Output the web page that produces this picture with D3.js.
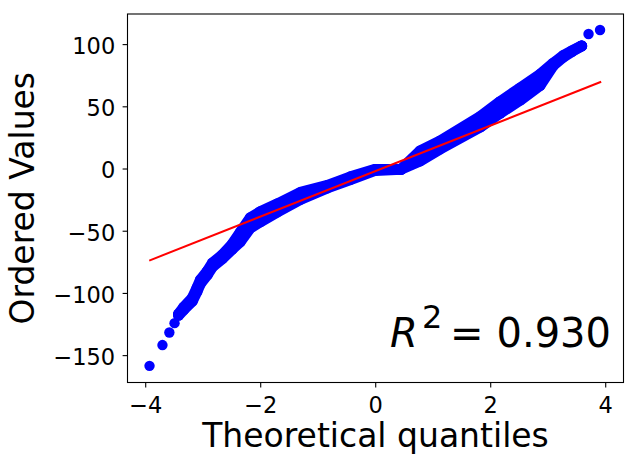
<!DOCTYPE html>
<html>
<head>
<meta charset="utf-8">
<script src="https://cdn.jsdelivr.net/npm/d3@7"></script>
<style>
  body { margin: 0; background: #fff; }
  text { font-family: "DejaVu Sans", sans-serif; }
</style>
</head>
<body>
<svg id="chart"></svg>
<script>
// isolated points at both ends of the Q-Q curve
const tailQ = [-3.925, -3.70, -3.58, -3.49, 3.71, 3.91];
const tailV = [-158.6, -141.9, -131.8, -124.3, 108.1, 111.3];

// dense part of the curve: upper and lower run of ordered values
const bandQ  = [-3.42, -3.33, -3.18, -3.10, -3.04, -2.92, -2.83, -2.66, -2.49, -2.35, -2.17, -2.00, -1.70, -1.30, -0.83, -0.43, 0.00, 0.45, 0.78, 1.13, 1.83, 2.17, 2.52, 2.87, 3.10, 3.27, 3.42, 3.59];
const upperV = [-117.0, -111.5, -104.0, -96.0, -89.5, -82.5, -76.0, -69.5, -61.0, -51.5, -39.5, -34.8, -28.4, -19.2, -13.6, -6.7, -0.7, -0.6, 14.1, 22.2, 41.9, 53.7, 64.7, 75.8, 84.8, 90.8, 94.5, 98.5];
const lowerV = [-118.0, -113.5, -106.5, -99.0, -92.5, -85.5, -79.0, -72.5, -65.0, -59.0, -47.7, -42.9, -34.9, -24.8, -15.6, -8.8, -1.5, -0.6, 6.1, 15.7, 33.4, 44.4, 54.9, 66.9, 83.0, 89.6, 94.0, 98.5];

// least squares line ends
const fitQ = [-3.93, 3.93];
const fitV = [-74.0, 69.7];

const xTicks = [-4, -2, 0, 2, 4];
const yTicks = [-150, -100, -50, 0, 50, 100];
const rSquared = "0.930";

class QQPlot {
    constructor() {
        this.w = 636;
        this.h = 465;
        this.box = {left: 127.5, right: 623.5, top: 14, bottom: 382.5};
        this.x = d3.scaleLinear().domain([-4.308, 4.318]).range([this.box.left, this.box.right]);
        this.y = d3.scaleLinear().domain([-172, 124.2]).range([this.box.bottom, this.box.top]);
        this.buildChart();
    }

    buildChart() {
        const svg = d3.select("#chart")
            .attr("width", this.w)
            .attr("height", this.h);
        const x = this.x, y = this.y, box = this.box;
        const blue = "#0000ff";

        const line = d3.line()
            .x(d => x(d[0]))
            .y(d => y(d[1]));

        const band = svg.append("g");
        band.append("path")
            .attr("d", d3.area()
                .x((d, i) => x(d))
                .y0((d, i) => y(lowerV[i]))
                .y1((d, i) => y(upperV[i]))(bandQ))
            .attr("fill", blue);

        [upperV, lowerV].forEach(vals => {
            const pts = bandQ.map((q, i) => [q, vals[i]]);
            band.append("path")
                .attr("d", line(pts))
                .attr("fill", "none")
                .attr("stroke", blue)
                .attr("stroke-width", 11)
                .attr("stroke-linecap", "round")
                .attr("stroke-linejoin", "round");
            band.selectAll(null)
                .data(pts)
                .enter()
                .append("circle")
                .attr("cx", d => x(d[0]))
                .attr("cy", d => y(d[1]))
                .attr("r", 5.5)
                .attr("fill", blue);
        });

        svg.append("g").selectAll("circle")
            .data(tailQ.map((q, i) => [q, tailV[i]]))
            .enter()
            .append("circle")
            .attr("cx", d => x(d[0]))
            .attr("cy", d => y(d[1]))
            .attr("r", 5.2)
            .attr("fill", blue);

        svg.append("path")
            .attr("d", line(fitQ.map((q, i) => [q, fitV[i]])))
            .attr("fill", "none")
            .attr("stroke", "#ff0000")
            .attr("stroke-width", 2);

        // frame
        svg.append("rect")
            .attr("x", box.left)
            .attr("y", box.top)
            .attr("width", box.right - box.left)
            .attr("height", box.bottom - box.top)
            .attr("fill", "none")
            .attr("stroke", "#000")
            .attr("stroke-width", 1.1);

        const xAxis = svg.append("g")
            .attr("transform", `translate(0,${box.bottom})`)
            .call(d3.axisBottom(x).tickValues(xTicks).tickSize(4.9).tickSizeOuter(0).tickFormat(d3.format("d")));
        xAxis.select(".domain").remove();
        xAxis.selectAll("line").attr("stroke-width", 1.1);
        xAxis.selectAll("text")
            .attr("y", 30)
            .attr("dy", 0)
            .attr("font-size", 22.5)
            .attr("font-family", "DejaVu Sans")
            .attr("fill", "#000");

        const yAxis = svg.append("g")
            .attr("transform", `translate(${box.left},0)`)
            .call(d3.axisLeft(y).tickValues(yTicks).tickSize(4.9).tickPadding(7.4).tickSizeOuter(0).tickFormat(d3.format("d")));
        yAxis.select(".domain").remove();
        yAxis.selectAll("line").attr("stroke-width", 1.1);
        yAxis.selectAll("text")
            .attr("dy", "0.42em")
            .attr("font-size", 22.5)
            .attr("font-family", "DejaVu Sans")
            .attr("fill", "#000");

        svg.append("text")
            .text("Theoretical quantiles")
            .attr("x", (box.left + box.right) / 2)
            .attr("y", 446.7)
            .attr("text-anchor", "middle")
            .attr("font-size", 33)
            .attr("fill", "#000");

        svg.append("text")
            .text("Ordered Values")
            .attr("transform", `translate(34,${(box.top + box.bottom) / 2}) rotate(-90)`)
            .attr("text-anchor", "middle")
            .attr("font-size", 33)
            .attr("fill", "#000");

        // R^2 annotation
        const ann = svg.append("g").attr("fill", "#000");
        ann.append("text").text("R")
            .attr("x", 390).attr("y", 346.5)
            .attr("font-size", 40).attr("font-style", "italic");
        ann.append("text").text("2")
            .attr("x", 422).attr("y", 328)
            .attr("font-size", 32);
        ann.append("text").text("=")
            .attr("x", 450).attr("y", 346.5)
            .attr("font-size", 40);
        ann.append("text").text(rSquared)
            .attr("x", 611).attr("y", 346.5)
            .attr("text-anchor", "end")
            .attr("font-size", 40);
    }
}

new QQPlot();
</script>
</body>
</html>
